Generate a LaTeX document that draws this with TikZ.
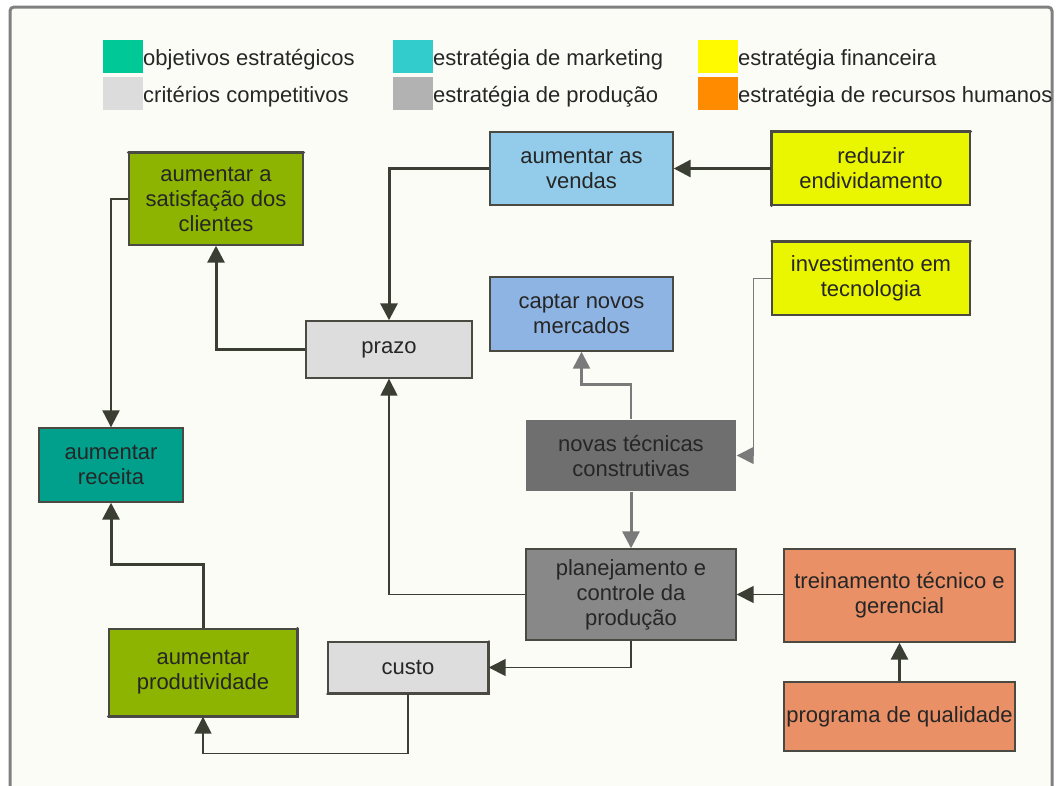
\documentclass[tikz,border=0pt]{standalone}
\usepackage{fontspec}
\setmainfont{Liberation Sans}
\usetikzlibrary{arrows.meta}

\definecolor{paper}{HTML}{FCFCF7}
\definecolor{framec}{HTML}{808080}
\definecolor{textc}{HTML}{262626}
\definecolor{linec}{HTML}{3B3E33}
\definecolor{greyline}{HTML}{7A7A7A}
\definecolor{boxline}{HTML}{4A4A42}
% legend swatches
\definecolor{lgGreen}{HTML}{00C896}
\definecolor{lgLight}{HTML}{DCDCDC}
\definecolor{lgCyan}{HTML}{33CCCC}
\definecolor{lgGrey}{HTML}{B2B2B2}
\definecolor{lgYellow}{HTML}{FFFA00}
\definecolor{lgOrange}{HTML}{FF8C00}
% box fills
\definecolor{olive}{HTML}{8CB400}
\definecolor{skyblue}{HTML}{92CCEA}
\definecolor{lemon}{HTML}{EAF500}
\definecolor{softblue}{HTML}{8EB4E3}
\definecolor{pale}{HTML}{DDDDDD}
\definecolor{teal}{HTML}{00A08C}
\definecolor{darkgrey}{HTML}{6F6F6F}
\definecolor{midgrey}{HTML}{888888}
\definecolor{salmon}{HTML}{E99066}

\begin{document}
\begin{tikzpicture}[x=1pt,y=-1pt,
  txt/.style={font=\fontsize{22}{25}\selectfont, text=textc},
  box/.style={txt, draw=boxline, line width=1.4pt, inner sep=0pt, align=center},
  swatch/.style={inner sep=0pt, minimum width=40pt, minimum height=33pt, anchor=north west},
  legtext/.style={txt, anchor=base west, inner sep=0pt},
  tip/.style={-{Triangle[length=17pt,width=17pt]}},
  heavy/.style={tip, draw=linec, line width=3pt},
  medium/.style={tip, draw=linec, line width=2.2pt},
  light/.style={tip, draw=linec, line width=1.5pt},
  greyheavy/.style={tip, draw=greyline, line width=3pt},
  greymedium/.style={tip, draw=greyline, line width=2.5pt},
  greylight/.style={tip, draw=greyline, line width=1.5pt},
  edge/.style={draw=boxline, line width=3pt, line cap=round},
]
\useasboundingbox (0,0) rectangle (1059,785);
\clip (0,0) rectangle (1059,785);
\fill[white] (0,0) rectangle (1059,785);

% outer frame
\draw[framec, line width=3pt, rounded corners=4pt, fill=paper] (10,7) rectangle (1052,800);

% legend
\node[swatch, fill=lgGreen]  (sw1) at (103,40) {};
\node[swatch, fill=lgLight]  (sw2) at (103,77) {};
\node[swatch, fill=lgCyan]   (sw3) at (393,40) {};
\node[swatch, fill=lgGrey]   (sw4) at (393,77) {};
\node[swatch, fill=lgYellow] (sw5) at (698,40) {};
\node[swatch, fill=lgOrange] (sw6) at (698,77) {};
\node[legtext] (lg1) at (143,65)  {objetivos estratégicos};
\node[legtext] (lg2) at (143,102) {critérios competitivos};
\node[legtext] (lg3) at (433,65)  {estratégia de marketing};
\node[legtext] (lg4) at (433,102) {estratégia de produção};
\node[legtext] (lg5) at (738,65)  {estratégia financeira};
\node[legtext] (lg6) at (738,102) {estratégia de recursos humanos};

% boxes
\node[box, fill=olive,    minimum width=174pt, minimum height=92pt] (satisf) at (216,199)
  {aumentar a\\satisfação dos\\clientes};
\node[box, fill=skyblue,  minimum width=183pt, minimum height=73pt] (vendas) at (581.5,168.5)
  {aumentar as\\vendas};
\node[box, fill=lemon,    minimum width=198pt, minimum height=73pt] (reduzir) at (871,168.5)
  {reduzir\\endividamento};
\node[box, fill=lemon,    minimum width=198pt, minimum height=73pt] (invest) at (871,278.5)
  {investimento em\\tecnologia};
\node[box, fill=softblue, minimum width=183pt, minimum height=74pt] (captar) at (581.5,314)
  {captar novos\\mercados};
\node[box, fill=pale,     minimum width=166pt, minimum height=57pt] (prazo) at (389,349.5)
  {prazo};
\node[box, fill=teal,     minimum width=144pt, minimum height=74pt] (receita) at (111,465)
  {aumentar\\receita};
\node[box, fill=darkgrey, draw=none, minimum width=210pt, minimum height=71pt] (novas) at (631,455.5)
  {novas técnicas\\construtivas};
\node[box, fill=midgrey,  minimum width=210pt, minimum height=91pt] (plan) at (631,594.5)
  {planejamento e\\controle da\\produção};
\node[box, fill=salmon,   minimum width=231pt, minimum height=93pt] (trein) at (899.5,595.5)
  {treinamento técnico e\\gerencial};
\node[box, fill=salmon,   minimum width=231pt, minimum height=69pt] (prog) at (899.5,716.5)
  {programa de qualidade};
\node[box, fill=olive,    minimum width=188pt, minimum height=87pt] (prod) at (203,672.5)
  {aumentar\\produtividade};
\node[box, fill=pale,     minimum width=160pt, minimum height=51pt] (custo) at (408,667.5)
  {custo};

% heavier strokes along some box edges
\draw[edge] (satisf.north west) -- (satisf.north east);
\draw[edge] (reduzir.south west) -- (reduzir.north west) -- (reduzir.north east);
\draw[edge, line width=2.2pt] (invest.north west) -- (invest.north east);
\draw[edge] (prod.north east) -- (prod.south east) -- (prod.south west);
\draw[edge, line width=2.4pt] (custo.north east) -- (custo.south east) -- (custo.south west);

% connectors
\draw[heavy] (reduzir.west) -- (vendas.east);
\draw[heavy] (vendas.west) -| (prazo.north);
\draw[heavy] (prazo.west) -| (satisf.south);
\draw[medium] (satisf.west) -| (receita.north);
\draw[heavy] (prod.north) -- ++(0,-64) -| (receita.south);
\draw[light] (custo.south) -- ++(0,60) -| (prod.south);
\draw[light] (plan.south) |- (custo.east);
\draw[light] (plan.west) -| (prazo.south);
\draw[light] (trein.west |- plan.east) -- (plan.east);
\draw[heavy] (prog.north) -- (trein.south);
\draw[greyheavy] (novas.south) -- (plan.north);
\draw[greymedium] (novas.north) -- ++(0,-35) -| (captar.south);
\draw[greylight] (invest.west) -- ++(-18,0) |- (novas.east);
\end{tikzpicture}
\end{document}
